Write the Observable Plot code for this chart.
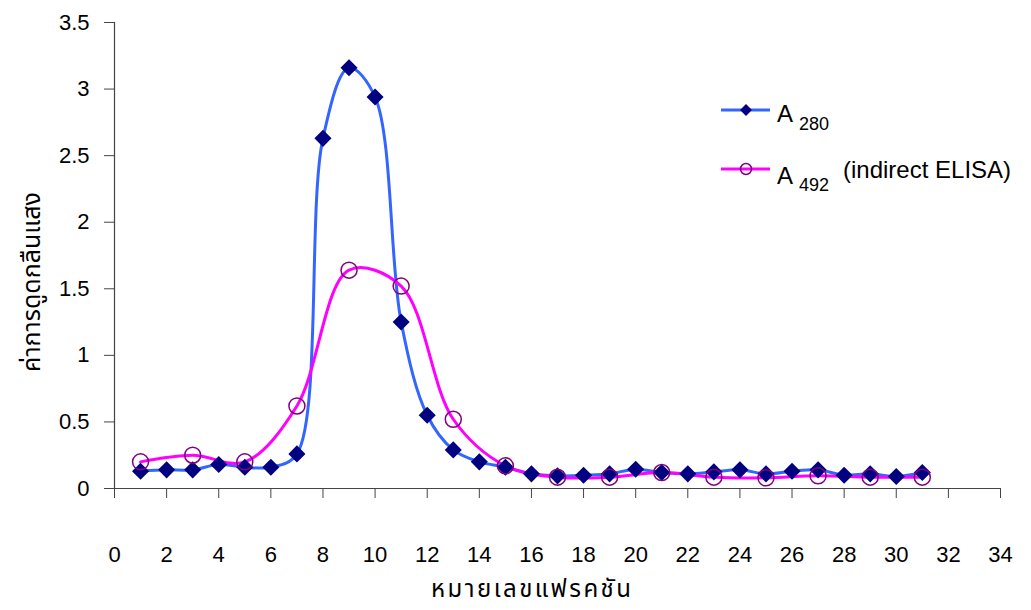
<!DOCTYPE html>
<html>
<head>
<meta charset="utf-8">
<script src="https://cdn.jsdelivr.net/npm/d3@7"></script>
<script src="https://cdn.jsdelivr.net/npm/@observablehq/plot@0.6"></script>
<style>
  html, body { margin: 0; padding: 0; background: #fff; }
  #chart { position: relative; width: 1031px; height: 610px; }
</style>
</head>
<body>
<div id="chart"></div>
<script>
// Fraction numbers
const fractionsA280 = d3.range(1, 32);
const valuesA280 = [0.13,0.14,0.14,0.18,0.16,0.16,0.26,2.63,3.16,2.94,1.25,0.55,0.29,0.20,0.16,0.11,0.095,0.10,0.11,0.145,0.12,0.11,0.125,0.14,0.11,0.13,0.14,0.10,0.11,0.09,0.12];
const fractionsA492 = [1,3,5,7,9,11,13,15,17,19,21,23,25,27,29,31];
const valuesA492 = [0.20,0.25,0.20,0.62,1.64,1.52,0.52,0.17,0.085,0.085,0.12,0.085,0.08,0.095,0.085,0.085];
const xTicks = d3.range(0, 35, 2);
const yTicks = [0, 0.5, 1, 1.5, 2, 2.5, 3, 3.5];
const xTitle = "หมายเลขแฟรคชัน";
const yTitle = "ค่าการดูดกลืนแสง";

const dataA280 = fractionsA280.map((f, i) => ({f, v: valuesA280[i]}));
const dataA492 = fractionsA492.map((f, i) => ({f, v: valuesA492[i]}));

const thaiFont = "'Noto Sans Thai', 'Noto Sans Thai Looped', Garuda, Loma, 'Tlwg Typo', 'DejaVu Sans', sans-serif";
const latinFont = "'Liberation Sans', Arial, sans-serif";

const plot = Plot.plot({
  width: 1031,
  height: 610,
  marginLeft: 114,
  marginRight: 31,
  marginTop: 22,
  marginBottom: 122,
  style: {fontFamily: latinFont, fontSize: "22px", color: "#000", background: "#fff"},
  x: {domain: [0, 34]},
  y: {domain: [0, 3.5]},
  marks: [
    Plot.ruleX([0], {stroke: "#444", strokeWidth: 1.2}),
    Plot.ruleY([0], {stroke: "#444", strokeWidth: 1.2}),
    Plot.axisX({ticks: xTicks, tickSize: 10, tickPadding: 48, stroke: "#444", label: null, fontSize: 22}),
    Plot.axisY({ticks: yTicks, tickSize: 10, tickPadding: 15, stroke: "#444", label: null, fontSize: 22,
      tickFormat: d => String(d)}),
    Plot.line(dataA280, {x: "f", y: "v", stroke: "#3366ff", strokeWidth: 3, curve: "catmull-rom"}),
    Plot.line(dataA492, {x: "f", y: "v", stroke: "#ff00ff", strokeWidth: 3, curve: "catmull-rom"}),
    Plot.dot(dataA280, {x: "f", y: "v", symbol: "diamond2", r: 7.7, fill: "#000080", stroke: "none"}),
    Plot.dot(dataA492, {x: "f", y: "v", r: 8, fill: "none", stroke: "#800080", strokeWidth: 1.5})
  ]
});

document.getElementById("chart").appendChild(plot);

const svg = d3.select(plot);
// Axis titles
svg.append("text")
  .attr("x", 531).attr("y", 597)
  .attr("text-anchor", "middle")
  .attr("font-family", thaiFont)
  .attr("font-size", 24)
  .attr("textLength", 200)
  .attr("lengthAdjust", "spacing")
  .text(xTitle);
svg.append("text")
  .attr("transform", "translate(40,282) rotate(-90)")
  .attr("text-anchor", "middle")
  .attr("font-family", thaiFont)
  .attr("font-size", 25)
  .text(yTitle);

// Legend
const lg = svg.append("g").attr("font-family", latinFont).attr("fill", "#000").attr("text-anchor", "start");
lg.append("line").attr("x1", 721).attr("x2", 770).attr("y1", 110).attr("y2", 110)
  .attr("stroke", "#3366ff").attr("stroke-width", 3);
lg.append("path").attr("d", d3.symbol(d3.symbolDiamond2, 90)()).attr("transform", "translate(746,110)")
  .attr("fill", "#000080");
lg.append("text").attr("x", 777).attr("y", 122).attr("font-size", 24).text("A");
lg.append("text").attr("x", 799).attr("y", 130).attr("font-size", 18).text("280");

lg.append("line").attr("x1", 721).attr("x2", 770).attr("y1", 169).attr("y2", 169)
  .attr("stroke", "#ff00ff").attr("stroke-width", 3);
lg.append("circle").attr("cx", 746).attr("cy", 169).attr("r", 5.5)
  .attr("fill", "none").attr("stroke", "#800080").attr("stroke-width", 1.5);
lg.append("text").attr("x", 777).attr("y", 184).attr("font-size", 24).text("A");
lg.append("text").attr("x", 799).attr("y", 191).attr("font-size", 18).text("492");
lg.append("text").attr("x", 843).attr("y", 178).attr("font-size", 24).text("(indirect ELISA)");
</script>
</body>
</html>
